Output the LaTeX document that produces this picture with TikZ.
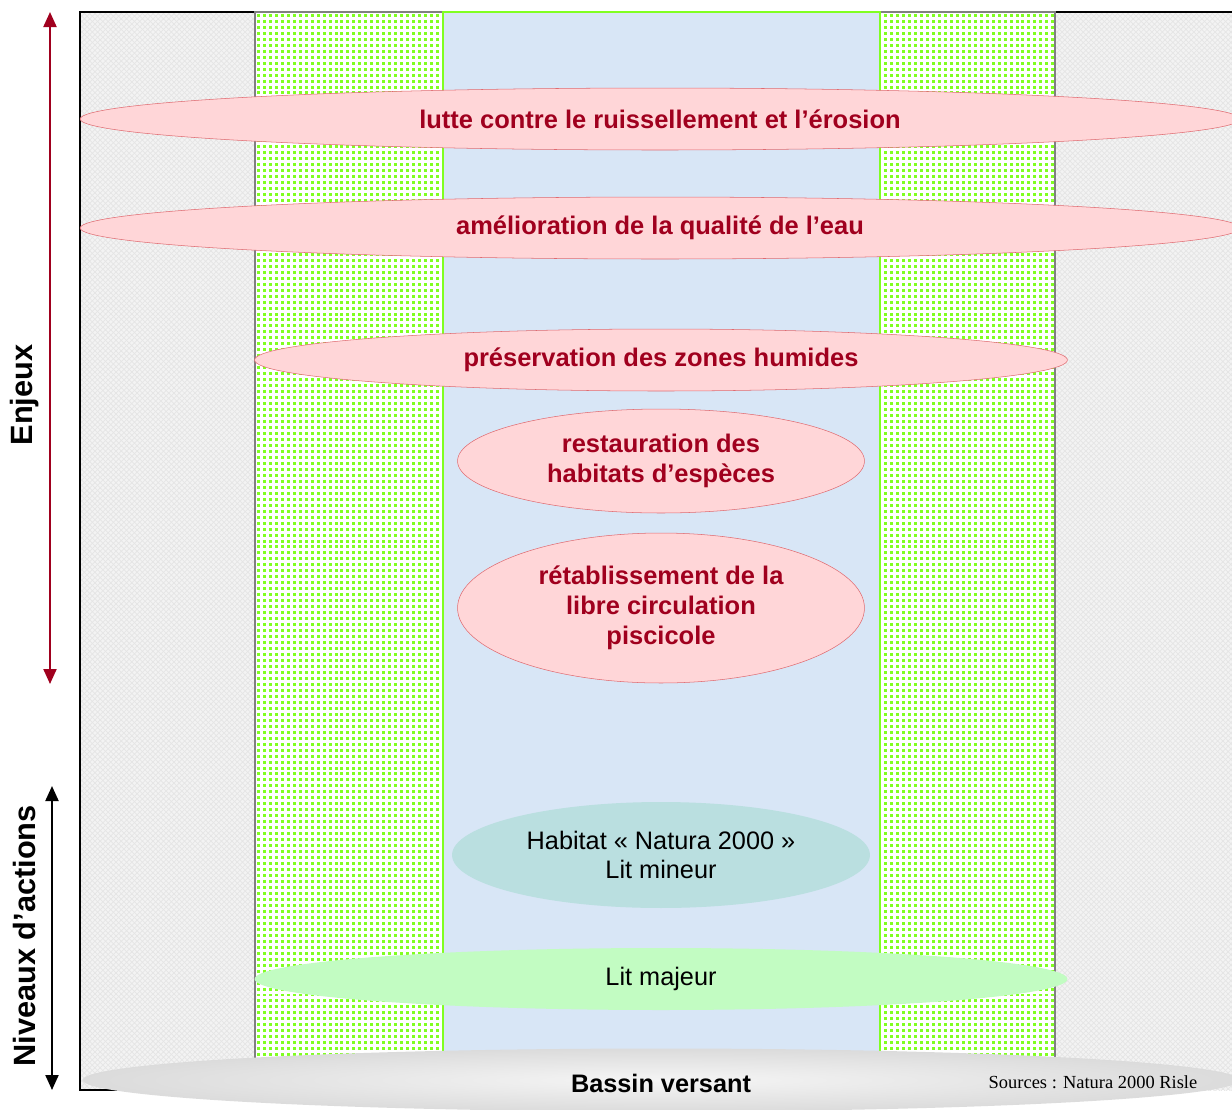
\documentclass[tikz,border=0pt]{standalone}
\usepackage{fontspec}
\setmainfont{Liberation Sans}
\newfontfamily\srcfont{Liberation Serif}
\usepackage{tikz}
\usetikzlibrary{positioning,arrows.meta,shapes.geometric,patterns}
\definecolor{nrred}{HTML}{A0001E}
\definecolor{nrpink}{HTML}{FFD6D8}
\definecolor{nrpinkline}{HTML}{E06A70}
\definecolor{nrgreen}{HTML}{80FF20}
\definecolor{nrblue}{HTML}{D8E6F6}
\definecolor{nrteal}{HTML}{BADFE0}
\definecolor{nrmint}{HTML}{C2FCC2}
\definecolor{nrgray}{HTML}{F3F3F3}
\pgfdeclarepatternformonly{squaredots}{\pgfpoint{-1pt}{-1pt}}{\pgfpoint{4pt}{4pt}}{\pgfpoint{3.4pt}{3.4pt}}%
  {\pgfpathrectangle{\pgfpointorigin}{\pgfpoint{1.7pt}{1.7pt}}\pgfusepath{fill}}
\tikzset{
  berge/.style   ={draw=gray, line width=0.6pt},
  riviere/.style ={fill=nrblue, draw=nrgreen, line width=0.6pt},
  enjeu/.style   ={ellipse, inner sep=0pt, fill=nrpink, draw=nrpinkline, line width=0.3pt,
                   text=nrred, align=center, font=\fontsize{14.5}{17}\selectfont\bfseries},
  niveau/.style  ={ellipse, inner sep=0pt, draw=none, align=center,
                   font=\fontsize{14.4}{17}\selectfont},
  axe/.style     ={{Triangle[length=3mm,width=2.6mm]}-{Triangle[length=3mm,width=2.6mm]}, line width=1.2pt},
  axelabel/.style={rotate=90, font=\fontsize{17.5}{19}\selectfont\bfseries},
}
\begin{document}
\begin{tikzpicture}[x=0.02cm, y=-0.02cm]
  \useasboundingbox (0,0) rectangle (1232,1110);
  \clip (0,0) rectangle (1232,1110);
  % bandes : versant, lit majeur, lit mineur
  \fill[nrgray] (80,12) rectangle (255,1090);
  \fill[pattern=crosshatch, pattern color=gray!20] (80,12) rectangle (255,1090);
  \fill[nrgray] (1055,12) rectangle (1240,1090);
  \fill[pattern=crosshatch, pattern color=gray!20] (1055,12) rectangle (1240,1090);
  \draw[black, line width=0.8pt] (255,12) -- (80,12) -- (80,1090) -- (255,1090);
  \draw[black, line width=0.8pt] (1055,12) -- (1240,12);
  \fill[white] (255,12) rectangle (443,1090);
  \fill[pattern=squaredots, pattern color=nrgreen] (255,12) rectangle (443,1090);
  \fill[white] (880,12) rectangle (1055,1090);
  \fill[pattern=squaredots, pattern color=nrgreen] (880,12) rectangle (1055,1090);
  \draw[berge] (255,1090) -- (255,12) -- (443,12);
  \draw[berge] (880,12) -- (1055,12) -- (1055,1090);
  \draw[riviere] (443,1090) -- (443,12) -- (880,12) -- (880,1090);
  \fill[nrblue] (444,13) rectangle (879,1090);

  % enjeux
  \node[enjeu, minimum width=23.2cm, minimum height=1.24cm] (ruiss) at (660,119)
    {lutte contre le ruissellement et l’érosion};
  \node[enjeu, minimum width=23.2cm, minimum height=1.24cm] (qualite) at (660,228)
    {amélioration de la qualité de l’eau};
  \node[enjeu, minimum width=16.26cm, minimum height=1.24cm] (zones) at (661,360)
    {préservation des zones humides};
  \node[enjeu, minimum width=8.14cm, minimum height=2.08cm] (habitats) at (661,461)
    {restauration des\\habitats d’espèces};
  \node[enjeu, minimum width=8.14cm, minimum height=3cm] (circ) at (661,608)
    {rétablissement de la\\libre circulation\\piscicole};

  % niveaux d'actions
  \node[niveau, fill=nrteal, minimum width=8.36cm, minimum height=2.12cm] (mineur) at (661,855)
    {Habitat « Natura 2000 »\\Lit mineur};
  \node[niveau, fill=nrmint, minimum width=16.26cm, minimum height=1.24cm] (majeur) at (661,979)
    {Lit majeur};
  \node[niveau, inner color=gray!8, outer color=gray!28, minimum width=23.14cm,
        minimum height=1.26cm] (bassin) at (661,1080) {};
  \node[font=\fontsize{14.4}{16}\selectfont\bfseries, anchor=base] (bassinlbl) at (661,1092)
    {Bassin versant};
  \node[font=\fontsize{10.5}{12}\selectfont\srcfont, anchor=base] (source) at (1093,1088)
    {Sources : Natura 2000 Risle};

  % axes
  \coordinate (enjhaut) at (50,12);
  \coordinate (enjbas) at (50,684);
  \coordinate (acthaut) at (52,786);
  \coordinate (actbas) at (52,1090);
  \draw[axe, nrred] (enjhaut) -- (enjbas);
  \draw[axe, black] (acthaut) -- (actbas);
  \node[axelabel] (enjeux) at (25,395) {Enjeux};
  \node[axelabel] (actions) at (25,936) {Niveaux d’actions};
\end{tikzpicture}
\end{document}
